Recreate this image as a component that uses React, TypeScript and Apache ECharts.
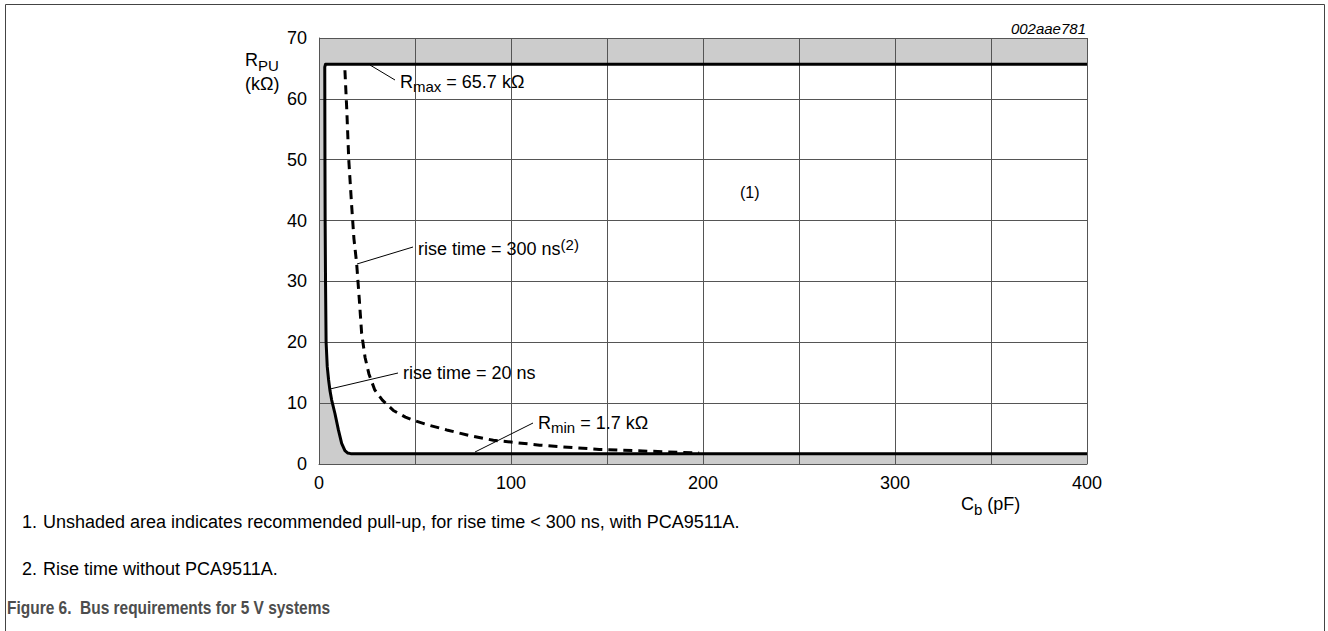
import React, { useEffect, useRef } from "react";
import * as echarts from "echarts";

// Axis ranges / ticks
const X_MIN = 0;
const X_MAX = 400;
const X_GRID_STEP = 50;
const X_LABEL_STEP = 100;
const Y_MIN = 0;
const Y_MAX = 70;
const Y_STEP = 10;

// Boundary of the recommended region: Rmax line (65.7 kΩ), rise time = 20 ns curve, Rmin line (1.7 kΩ)
const limitX = [400, 3.4, 3.0, 3.1, 3.2, 3.4, 3.7, 4.3, 5.0, 5.7, 6.6, 8.3, 10.1, 11.8, 13.5, 15, 16.5, 400];
const limitY = [65.7, 65.7, 65.2, 50, 40, 30, 20, 16, 13.8, 12.1, 10.5, 8.3, 5.6, 3.4, 2.2, 1.8, 1.7, 1.7];

// rise time = 300 ns curve (dashed)
const riseX = [13.5, 14.5, 15.5, 17, 18.2, 19.6, 21, 22.2, 24, 26, 29, 33, 38.7, 45, 49, 57, 66.5, 78, 90.8, 100, 115, 132, 146, 172, 198];
const riseY = [64.7, 58, 50, 42.5, 37, 33, 27, 21.5, 17.5, 14.8, 12.2, 10.5, 8.8, 7.7, 7.2, 6.4, 5.6, 4.7, 3.9, 3.6, 3.1, 2.7, 2.4, 2.1, 1.8];

const FONT = "'Liberation Sans', Arial, Helvetica, sans-serif";

export default function App() {
  const ref = useRef<HTMLDivElement>(null);

  useEffect(() => {
    if (!ref.current) return;
    const chart = echarts.init(ref.current, undefined, { renderer: "svg" });

    const main = { fontSize: 18, fontFamily: FONT, fill: "#000" };
    const sub = { fontSize: 15, fontFamily: FONT, fill: "#000", padding: [10, 0, 0, 0] };
    const sup = { fontSize: 15, fontFamily: FONT, fill: "#000", padding: [0, 0, 8, 0] };

    const txt = (x: number, y: number, text: string, extra: any = {}) => ({
      type: "text",
      x,
      y,
      z: 10,
      silent: true,
      style: {
        text,
        fontSize: 18,
        fontFamily: FONT,
        fill: "#000",
        align: "left",
        verticalAlign: "middle",
        rich: { b: main, s: sub, p: sup },
        ...extra,
      },
    });

    const lead = (x1: number, y1: number, x2: number, y2: number) => ({
      type: "line",
      z: 10,
      silent: true,
      shape: { x1, y1, x2, y2 },
      style: { stroke: "#000", lineWidth: 1 },
    });

    const axisCommon = {
      type: "value",
      z: 3,
      axisLine: { show: true, onZero: false, lineStyle: { color: "#555", width: 1 } },
      axisTick: { show: false },
      splitLine: { show: true, lineStyle: { color: "#555", width: 1 } },
    };

    chart.setOption({
      animation: false,
      grid: { left: 319, top: 38, width: 768, height: 426, show: false },
      xAxis: {
        ...axisCommon,
        min: X_MIN,
        max: X_MAX,
        interval: X_GRID_STEP,
        axisLabel: {
          margin: 10,
          fontSize: 18,
          color: "#000",
          fontFamily: FONT,
          formatter: (v: number) => (v % X_LABEL_STEP === 0 ? String(v) : ""),
        },
      },
      yAxis: {
        ...axisCommon,
        min: Y_MIN,
        max: Y_MAX,
        interval: Y_STEP,
        axisLabel: { margin: 12, fontSize: 18, color: "#000", fontFamily: FONT },
      },
      series: [
        {
          type: "custom",
          z: 1,
          silent: true,
          data: [[0, 0]],
          renderItem: (_params: any, api: any) => {
            const tl = api.coord([X_MIN, Y_MAX]);
            const br = api.coord([X_MAX, Y_MIN]);
            const pts = limitX.map((x, i) => api.coord([x, limitY[i]]));
            return {
              type: "group",
              children: [
                {
                  type: "rect",
                  shape: { x: tl[0], y: tl[1], width: br[0] - tl[0], height: br[1] - tl[1] },
                  style: { fill: "#cccccc" },
                },
                { type: "polygon", shape: { points: pts }, style: { fill: "#ffffff" } },
              ],
            };
          },
        },
        {
          type: "line",
          z: 5,
          symbol: "none",
          silent: true,
          data: limitX.map((x, i) => [x, limitY[i]]),
          lineStyle: { color: "#000", width: 3, join: "round" },
        },
        {
          type: "line",
          z: 5,
          symbol: "none",
          silent: true,
          data: riseX.map((x, i) => [x, riseY[i]]),
          lineStyle: { color: "#000", width: 3, type: [9, 6] },
        },
      ],
      graphic: [
        {
          type: "polyline",
          z: 10,
          silent: true,
          shape: { points: [[5.5, 631], [5.5, 4.5], [1324.5, 4.5], [1324.5, 631]] },
          style: { stroke: "#444", lineWidth: 1, fill: null },
        },
        txt(1086, 28, "002aae781", { align: "right", fontSize: 15, fontStyle: "italic" }),
        txt(245, 60.3, "{b|R}{s|PU}"),
        txt(245, 84, "(kΩ)"),
        txt(961, 504, "{b|C}{s|b}{b| (pF)}"),
        lead(370, 65, 395, 80),
        txt(400, 81.7, "{b|R}{s|max}{b| = 65.7 kΩ}"),
        lead(357, 264, 413, 247),
        txt(418, 248.8, "{b|rise time = 300 ns}{p|(2)}"),
        lead(330, 389, 398, 373),
        txt(403, 372.8, "rise time = 20 ns"),
        lead(475, 452, 533, 423),
        txt(538, 422.5, "{b|R}{s|min}{b| = 1.7 kΩ}"),
        txt(740, 192, "(1)", { fontSize: 16 }),
        txt(22, 522, "1."),
        txt(43, 522, "Unshaded area indicates recommended pull-up, for rise time < 300 ns, with PCA9511A."),
        txt(22, 569, "2."),
        txt(43, 569, "Rise time without PCA9511A."),
        {
          type: "text",
          x: 7,
          y: 608,
          z: 10,
          scaleX: 0.86,
          silent: true,
          style: {
            text: "Figure 6.  Bus requirements for 5 V systems",
            fontSize: 18,
            fontWeight: "bold",
            fontFamily: FONT,
            fill: "#4d4d4d",
            align: "left",
            verticalAlign: "middle",
          },
        },
      ],
    });

    return () => chart.dispose();
  }, []);

  return (
    <div
      ref={ref}
      style={{ position: "fixed", left: 0, top: 0, width: 1328, height: 631, background: "#fff" }}
    />
  );
}
